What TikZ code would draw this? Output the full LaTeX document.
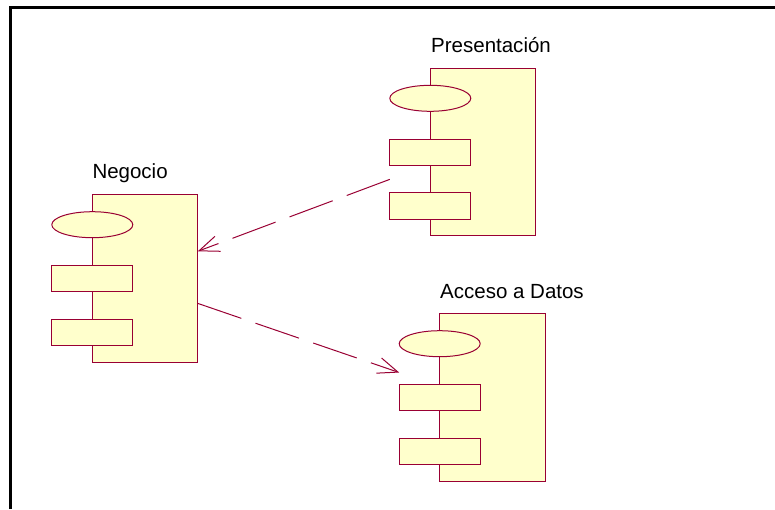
\documentclass[tikz,border=0pt]{standalone}
\usepackage{fontspec}
\setmainfont{Liberation Sans}
\usetikzlibrary{arrows.meta}
\definecolor{roseline}{RGB}{153,0,51}
\definecolor{rosefill}{RGB}{255,255,204}
\tikzset{
  compline/.style={draw=roseline, fill=rosefill, line width=1pt},
  compbox/.style={rectangle, draw=none, inner sep=0pt, outer sep=0pt,
    minimum width=146pt, minimum height=167.5pt},
  lbl/.style={anchor=base west, inner sep=0pt, font=\fontsize{20.5}{24}\selectfont},
  dep/.style={draw=roseline, line width=1pt, dash pattern=on 46pt off 15pt,
    -{Straight Barb[length=20pt,width=16pt,line width=1pt]}},
  frameline/.style={draw=black, line width=3pt}
}
\newcommand\umlcomp[3]{%
  \draw[compline] (#2,#3) rectangle ++(105.5,167.5);
  \draw[compline] (#2,#3+30) ellipse [x radius=40.5pt, y radius=13pt];
  \draw[compline] (#2-40.5,#3+71) rectangle ++(81,26);
  \draw[compline] (#2-40.5,#3+124.5) rectangle ++(81,26.5);
  \node[compbox] (#1) at (#2+32.5,#3+83.75) {};
}
\begin{document}
\begin{tikzpicture}[x=1pt,y=-1pt]
\useasboundingbox (0,0) rectangle (775,509);
\draw[frameline] (10.5,509) -- (10.5,7.5) -- (775,7.5);
\umlcomp{pres}{430.3}{68.3}
\umlcomp{neg}{92.3}{194.7}
\umlcomp{acc}{439.7}{313.7}
\node[lbl] (lpres) at (431,52.3) {Presentación};
\node[lbl] (lneg) at (92.3,178.3) {Negocio};
\node[lbl] (lacc) at (440,298) {Acceso a Datos};
\draw[dep] (pres) -- (neg);
\draw[dep] (neg) -- (acc);
\end{tikzpicture}
\end{document}
